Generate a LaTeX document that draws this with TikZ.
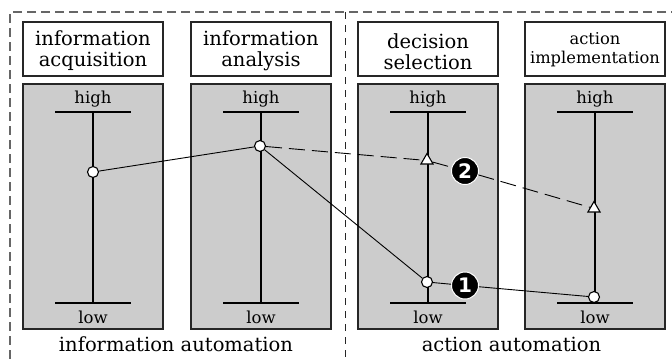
\documentclass[tikz,border=0pt]{standalone}
\usepackage{fontspec}
\setmainfont{DejaVu Serif}
\newfontfamily\badgefont{DejaVu Sans}
\usetikzlibrary{shapes.geometric}
\tikzset{
  frame/.style={draw=black!60, line width=1.3pt, dash pattern=on 9pt off 5pt},
  midframe/.style={draw=black!85, line width=1pt, dash pattern=on 7pt off 6pt},
  titlebox/.style={draw=black!85, line width=1.3pt, fill=white},
  graybox/.style={draw=black!85, line width=1.3pt, fill=black!20},
  bar/.style={draw=black, line width=1.8pt},
  scaleline/.style={draw=black, line width=1.6pt},
  conn/.style={draw=black, line width=0.9pt},
  dconn/.style={draw=black, line width=0.9pt, dash pattern=on 16pt off 7pt},
  circmark/.style={circle, draw=black, fill=white, line width=1.1pt, inner sep=0pt, minimum size=11pt},
  trimark/.style={regular polygon, regular polygon sides=3, draw=black, fill=white, line width=1.1pt, inner sep=0pt, minimum size=14pt},
  badge/.style={circle, fill=black, draw=white, line width=1pt, inner sep=0pt, minimum size=27pt, text=white, font=\badgefont\bfseries\fontsize{20}{20}\selectfont},
  head/.style={font=\fontsize{19.5}{21}\selectfont, align=center},
  smallhead/.style={font=\fontsize{16.3}{19}\selectfont, align=center},
  lvl/.style={font=\fontsize{16.5}{18}\selectfont, anchor=base},
  foot/.style={font=\fontsize{19.5}{21}\selectfont, anchor=base}
}
\begin{document}
\begin{tikzpicture}[x=1pt,y=-1pt]
\useasboundingbox (0,0) rectangle (672,360);
% dashed frames
\coordinate (ftl) at (10,12);
\coordinate (ftr) at (680,12);
\coordinate (fbl) at (10,370);
\coordinate (mt) at (345,12);
\coordinate (mb) at (345,370);
\draw[frame] (ftr) -- (ftl) -- (fbl);
\draw[midframe] (mt) -- (mb);
% columns
\foreach \i/\cx in {1/93,2/261,3/428,4/595}{
  \node[titlebox, minimum width=140pt, minimum height=54pt] (t\i) at (\cx,49) {};
  \node[graybox, minimum width=140pt, minimum height=245pt] (g\i) at (\cx,206.5) {};
  \coordinate (hl\i) at (\cx-38,112);
  \coordinate (hr\i) at (\cx+38,112);
  \coordinate (ll\i) at (\cx-38,303);
  \coordinate (lr\i) at (\cx+38,303);
  \coordinate (hc\i) at (\cx,112);
  \coordinate (lc\i) at (\cx,303);
  \draw[bar] (hl\i) -- (hr\i);
  \draw[bar] (ll\i) -- (lr\i);
  \draw[scaleline] (hc\i) -- (lc\i);
  \node[lvl] (hi\i) at (\cx,103.5) {high};
  \node[lvl] (lo\i) at (\cx,323) {low};
}
\node[head] (h1) at (93,51) {information\\acquisition};
\node[head] (h2) at (261,51) {information\\analysis};
\node[head] (h3) at (428,52) {decision\\selection};
\node[smallhead] (h4) at (595,50) {action\\implementation};
% markers
\node[circmark] (p1) at (93,172) {};
\node[circmark] (p2) at (260,146) {};
\node[circmark] (p3) at (427,282) {};
\node[circmark] (p4) at (594,297) {};
\node[trimark] (q3) at (427,160.5) {};
\node[trimark] (q4) at (594,208.5) {};
\node[badge] (b1) at (465,285.5) {1};
\node[badge] (b2) at (465,171) {2};
% connectors
\draw[conn] (p1) -- (p2);
\draw[conn] (p2) -- (p3);
\draw[conn] (p3) -- (b1);
\draw[conn] (b1) -- (p4);
\draw[dconn] (p2) -- (q3);
\draw[dconn] (q3) -- (b2);
\draw[dconn] (b2) -- (q4);
% footers
\node[foot] (f1) at (176,351.5) {information automation};
\node[foot] (f2) at (511.5,351.5) {action automation};
\end{tikzpicture}
\end{document}
